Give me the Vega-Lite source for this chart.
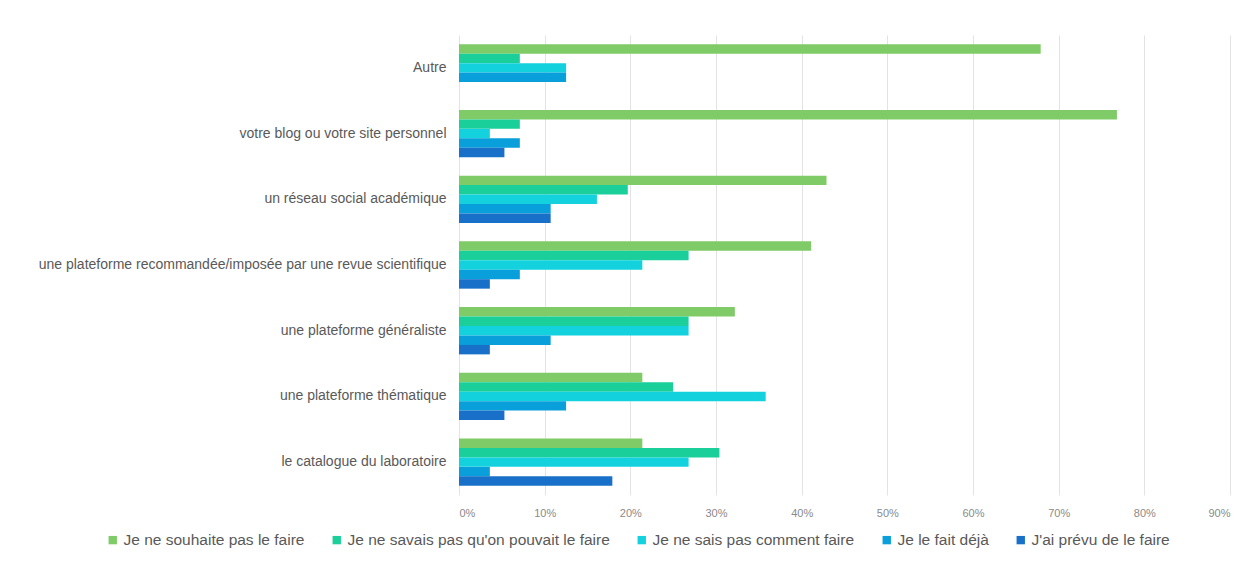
{
  "$schema": "https://vega.github.io/schema/vega-lite/v6.json",
  "width": 771,
  "height": 460,
  "autosize": {"type": "none"},
  "padding": {"left": 459, "top": 35, "right": 27, "bottom": 70},
  "background": "white",
  "data": {"values": [
    {"cat": "Autre", "s": "Je ne souhaite pas le faire", "v": 0.679},
    {"cat": "Autre", "s": "Je ne savais pas qu'on pouvait le faire", "v": 0.071},
    {"cat": "Autre", "s": "Je ne sais pas comment faire", "v": 0.125},
    {"cat": "Autre", "s": "Je le fait déjà", "v": 0.125},
    {"cat": "Autre", "s": "J'ai prévu de le faire", "v": 0},
    {"cat": "votre blog ou votre site personnel", "s": "Je ne souhaite pas le faire", "v": 0.768},
    {"cat": "votre blog ou votre site personnel", "s": "Je ne savais pas qu'on pouvait le faire", "v": 0.071},
    {"cat": "votre blog ou votre site personnel", "s": "Je ne sais pas comment faire", "v": 0.036},
    {"cat": "votre blog ou votre site personnel", "s": "Je le fait déjà", "v": 0.071},
    {"cat": "votre blog ou votre site personnel", "s": "J'ai prévu de le faire", "v": 0.053},
    {"cat": "un réseau social académique", "s": "Je ne souhaite pas le faire", "v": 0.429},
    {"cat": "un réseau social académique", "s": "Je ne savais pas qu'on pouvait le faire", "v": 0.197},
    {"cat": "un réseau social académique", "s": "Je ne sais pas comment faire", "v": 0.161},
    {"cat": "un réseau social académique", "s": "Je le fait déjà", "v": 0.107},
    {"cat": "un réseau social académique", "s": "J'ai prévu de le faire", "v": 0.107},
    {"cat": "une plateforme recommandée/imposée par une revue scientifique ", "s": "Je ne souhaite pas le faire", "v": 0.411},
    {"cat": "une plateforme recommandée/imposée par une revue scientifique ", "s": "Je ne savais pas qu'on pouvait le faire", "v": 0.268},
    {"cat": "une plateforme recommandée/imposée par une revue scientifique ", "s": "Je ne sais pas comment faire", "v": 0.214},
    {"cat": "une plateforme recommandée/imposée par une revue scientifique ", "s": "Je le fait déjà", "v": 0.071},
    {"cat": "une plateforme recommandée/imposée par une revue scientifique ", "s": "J'ai prévu de le faire", "v": 0.036},
    {"cat": "une plateforme généraliste", "s": "Je ne souhaite pas le faire", "v": 0.322},
    {"cat": "une plateforme généraliste", "s": "Je ne savais pas qu'on pouvait le faire", "v": 0.268},
    {"cat": "une plateforme généraliste", "s": "Je ne sais pas comment faire", "v": 0.268},
    {"cat": "une plateforme généraliste", "s": "Je le fait déjà", "v": 0.107},
    {"cat": "une plateforme généraliste", "s": "J'ai prévu de le faire", "v": 0.036},
    {"cat": "une plateforme thématique", "s": "Je ne souhaite pas le faire", "v": 0.214},
    {"cat": "une plateforme thématique", "s": "Je ne savais pas qu'on pouvait le faire", "v": 0.25},
    {"cat": "une plateforme thématique", "s": "Je ne sais pas comment faire", "v": 0.358},
    {"cat": "une plateforme thématique", "s": "Je le fait déjà", "v": 0.125},
    {"cat": "une plateforme thématique", "s": "J'ai prévu de le faire", "v": 0.053},
    {"cat": "le catalogue du laboratoire", "s": "Je ne souhaite pas le faire", "v": 0.214},
    {"cat": "le catalogue du laboratoire", "s": "Je ne savais pas qu'on pouvait le faire", "v": 0.304},
    {"cat": "le catalogue du laboratoire", "s": "Je ne sais pas comment faire", "v": 0.268},
    {"cat": "le catalogue du laboratoire", "s": "Je le fait déjà", "v": 0.036},
    {"cat": "le catalogue du laboratoire", "s": "J'ai prévu de le faire", "v": 0.179}
  ]},
  "mark": {"type": "bar"},
  "encoding": {
    "y": {
      "field": "cat", "type": "nominal", "sort": null, "title": null,
      "scale": {"paddingInner": 0.28, "paddingOuter": 0.14},
      "axis": {"domain": false, "ticks": false, "grid": false, "labelFont": "Liberation Sans", "labelFontSize": 14, "labelColor": "#595959", "labelPadding": 13, "labelLimit": 500}
    },
    "yOffset": {"field": "s", "type": "nominal", "sort": ["Je ne souhaite pas le faire", "Je ne savais pas qu'on pouvait le faire", "Je ne sais pas comment faire", "Je le fait déjà", "J'ai prévu de le faire"]},
    "x": {
      "field": "v", "type": "quantitative", "title": null,
      "scale": {"domain": [0, 0.9], "nice": false},
      "axis": {"format": ".0%", "values": [0, 0.1, 0.2, 0.3, 0.4, 0.5, 0.6, 0.7, 0.8, 0.9], "domain": false, "ticks": false, "grid": true, "gridColor": "#e3e3e3", "labelFont": "Liberation Sans", "labelFontSize": 11, "labelColor": "#8a8a8a", "labelPadding": 12}
    },
    "color": {
      "field": "s", "type": "nominal", "title": null,
      "scale": {
        "domain": ["Je ne souhaite pas le faire", "Je ne savais pas qu'on pouvait le faire", "Je ne sais pas comment faire", "Je le fait déjà", "J'ai prévu de le faire"],
        "range": ["#7FCB67", "#1ACF9A", "#13D2DE", "#089FDA", "#1870C8"]
      },
      "legend": {
        "orient": "none", "direction": "horizontal", "legendX": -354, "legendY": 497,
        "symbolType": "square", "symbolSize": 70, "symbolStrokeWidth": 0, "symbolOffset": 0,
        "labelFont": "Liberation Sans", "labelFontSize": 15.5, "labelColor": "#595959",
        "labelOffset": 3, "columnPadding": 24, "labelLimit": 500
      }
    }
  },
  "config": {"view": {"stroke": null}}
}
